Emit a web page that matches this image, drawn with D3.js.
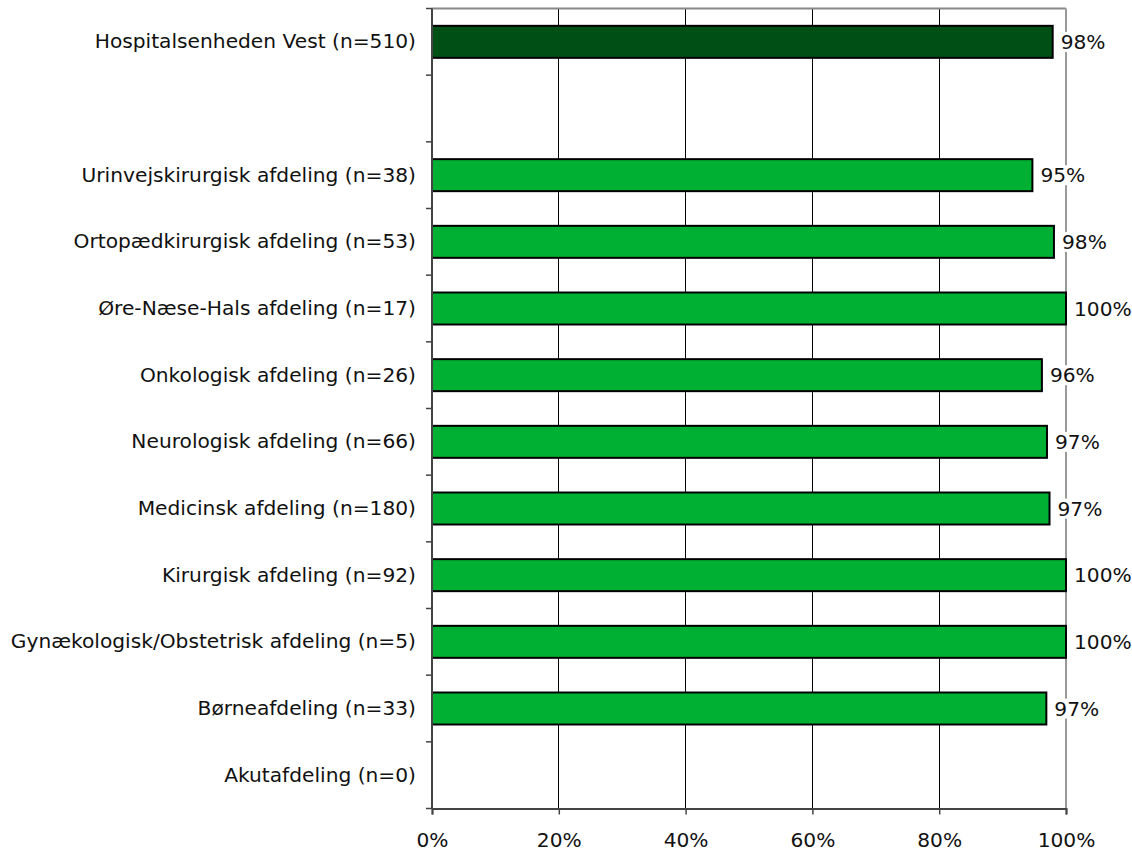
<!DOCTYPE html>
<html><head><meta charset="utf-8">
<script src="https://cdn.jsdelivr.net/npm/d3@7"></script>
<style>body{margin:0;background:#fff}svg{display:block}text{font-family:"DejaVu Sans",sans-serif;}</style>
</head><body><svg id="c" width="1132" height="856"></svg>
<script>
const categories = ["Hospitalsenheden Vest (n=510)", "", "Urinvejskirurgisk afdeling (n=38)", "Ortopædkirurgisk afdeling (n=53)", "Øre-Næse-Hals afdeling (n=17)", "Onkologisk afdeling (n=26)", "Neurologisk afdeling (n=66)", "Medicinsk afdeling (n=180)", "Kirurgisk afdeling (n=92)", "Gynækologisk/Obstetrisk afdeling (n=5)", "Børneafdeling (n=33)", "Akutafdeling (n=0)"];
const values = [97.9, null, 94.7, 98.1, 100, 96.2, 97.0, 97.4, 100, 100, 96.9, null];
const totalFlags = [true, false, false, false, false, false, false, false, false, false, false, false];
const xTicks = [0, 20, 40, 60, 80, 100];

const FS = 20.2;
const svg = d3.select("#c");
const L = 432, R = 1066, T = 8.5, B = 808.5;
const x = d3.scaleLinear().domain([0, 100]).range([L, R]);
const y = d3.scaleBand().domain(categories.map((d, i) => i)).range([T, B]).paddingInner(0.52).paddingOuter(0.26);
const yb = d3.scaleBand().domain(categories.map((d, i) => i)).range([T, B]);

// grid
svg.append("g").selectAll("line").data(xTicks.filter(t => t > 0 && t < 100)).join("line")
  .attr("x1", d => x(d)).attr("x2", d => x(d)).attr("y1", T).attr("y2", B)
  .attr("stroke", "#000").attr("stroke-width", 1).attr("shape-rendering", "crispEdges");
// top & right border
svg.append("line").attr("x1", L).attr("x2", R).attr("y1", T).attr("y2", T).attr("stroke", "#888").attr("stroke-width", 2);
svg.append("line").attr("x1", R).attr("x2", R).attr("y1", T).attr("y2", B).attr("stroke", "#999").attr("stroke-width", 2);

// bars
const data = categories.map((c, i) => ({c, i, v: values[i], total: totalFlags[i]})).filter(d => d.v != null);
svg.append("g").selectAll("rect").data(data).join("rect")
  .attr("x", x(0)).attr("y", d => y(d.i)).attr("width", d => x(d.v) - x(0)).attr("height", y.bandwidth())
  .attr("fill", d => d.total ? "#004f14" : "#00b033").attr("stroke", "#000").attr("stroke-width", 2);

// value labels
const lg = svg.append("g").selectAll("g").data(data).join("g")
  .attr("transform", d => `translate(${x(d.v) + 8},${y(d.i) + y.bandwidth() / 2})`);
lg.append("text").attr("class", "vl").attr("dy", "0.35em").attr("font-size", FS).attr("fill", "#111")
  .text(d => Math.round(d.v) + "%");
lg.each(function() {
  const t = d3.select(this).select("text");
  const bb = t.node().getBBox();
  d3.select(this).insert("rect", "text").attr("x", bb.x - 2).attr("y", bb.y + 2).attr("width", bb.width + 4).attr("height", bb.height - 4).attr("fill", "#fff");
});

// axes
const yAxis = d3.axisLeft(yb).tickSize(0).tickFormat(i => categories[i]);
const gy = svg.append("g").attr("transform", `translate(${L},0)`).call(yAxis);
gy.select(".domain").remove();
gy.selectAll("text").attr("x", -16).attr("font-size", FS).attr("fill", "#111").attr("font-family", null);
// y ticks at band boundaries
svg.append("g").selectAll("line").data(d3.range(categories.length + 1)).join("line")
  .attr("x1", L - 6).attr("x2", L).attr("y1", i => T + i * yb.step()).attr("y2", i => T + i * yb.step())
  .attr("stroke", "#444").attr("stroke-width", 1.5);
svg.append("line").attr("x1", L).attr("x2", L).attr("y1", T).attr("y2", B).attr("stroke", "#444").attr("stroke-width", 2);

const xAxis = d3.axisBottom(x).tickValues(xTicks).tickSize(6).tickPadding(18).tickFormat(d => d + "%");
const gx = svg.append("g").attr("transform", `translate(0,${B})`).call(xAxis);
gx.select(".domain").attr("stroke", "#444").attr("stroke-width", 2);
gx.selectAll(".tick line").attr("stroke", "#444").attr("stroke-width", 1.5);
gx.selectAll("text").attr("font-size", FS).attr("fill", "#111").attr("font-family", null);
</script></body></html>
